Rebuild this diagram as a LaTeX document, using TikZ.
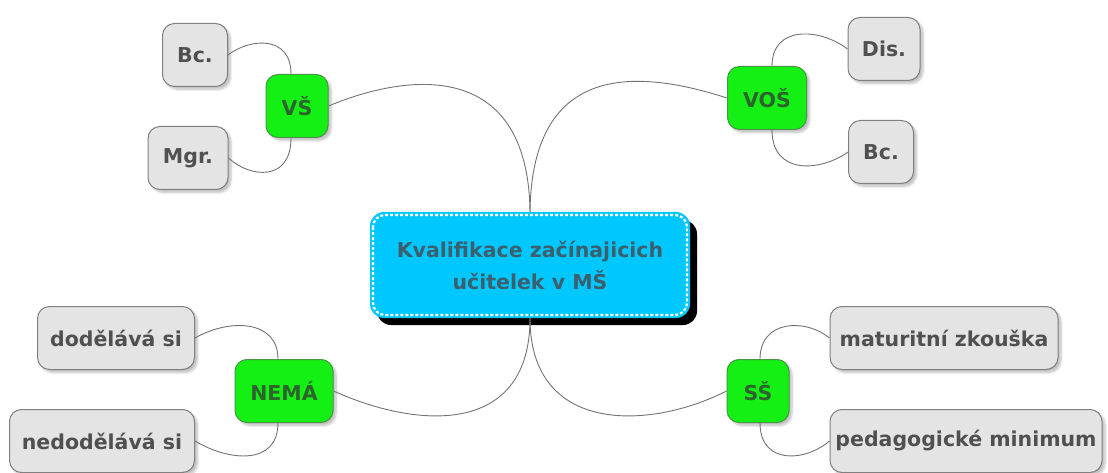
\documentclass[tikz,border=0pt]{standalone}
\usepackage{fontspec}
\setmainfont{DejaVu Sans}
\usetikzlibrary{shadows.blur}
\definecolor{leaffill}{RGB}{228,228,228}
\definecolor{leafdraw}{RGB}{128,128,128}
\definecolor{leaftext}{RGB}{80,80,80}
\definecolor{midfill}{RGB}{20,240,20}
\definecolor{middraw}{RGB}{70,150,70}
\definecolor{midtext}{RGB}{45,100,45}
\definecolor{rootfill}{RGB}{0,200,255}
\definecolor{roottext}{RGB}{60,95,110}
\definecolor{linkcol}{RGB}{115,115,115}
\tikzset{
  x=1pt, y=-1pt,
  every node/.style={font=\fontsize{20.5}{32}\selectfont\bfseries, inner sep=0pt, align=center},
  leaf/.style={draw=leafdraw, line width=1pt, fill=leaffill, text=leaftext,
    rounded corners=12pt, minimum height=63pt,
    blur shadow={shadow xshift=3pt, shadow yshift=-3pt, shadow blur steps=6, shadow opacity=25}},
  branch/.style={draw=middraw, line width=1pt, fill=midfill, text=midtext,
    rounded corners=12pt, minimum height=63pt,
    blur shadow={shadow xshift=3pt, shadow yshift=-3pt, shadow blur steps=6, shadow opacity=25}},
  link/.style={draw=linkcol, line width=0.9pt},
}
\begin{document}
\begin{tikzpicture}
\useasboundingbox (0,0) rectangle (1108,473);

% central topic with hard shadow and stitched border
\fill[black, rounded corners=14pt] (377,220) rectangle (697,325);
\node[fill=rootfill, rounded corners=14pt, minimum width=320pt, minimum height=106pt,
      text=roottext] (root) at (530,265) {Kvalifikace začínajicich\\učitelek v MŠ};
\draw[white, line width=2.2pt, dash pattern=on 3pt off 2pt, rounded corners=12pt]
  (373,215) rectangle (687,315);

% branches
\node[branch, minimum width=62pt] (vs) at (297,106) {VŠ};
\node[branch, minimum width=79pt] (vos) at (767,98) {VOŠ};
\node[branch, minimum width=98pt] (nema) at (284,391) {NEMÁ};
\node[branch, minimum width=62pt] (ss) at (758,391) {SŠ};

% leaves
\node[leaf, minimum width=65pt] (bc1) at (195,55) {Bc.};
\node[leaf, minimum width=80pt] (mgr) at (188,158) {Mgr.};
\node[leaf, minimum width=72pt] (dis) at (884,49) {Dis.};
\node[leaf, minimum width=65pt] (bc2) at (881,152) {Bc.};
\node[leaf, minimum width=157pt] (dod) at (116,338) {dodělává si};
\node[leaf, minimum width=185pt] (nedod) at (102,441) {nedodělává si};
\node[leaf, minimum width=228pt] (mat) at (944,338) {maturitní zkouška};
\node[leaf, minimum width=272pt] (ped) at (966,441) {pedagogické minimum};

% links from the central topic
\draw[link] (root.north) .. controls (528,60) and (410,72) .. (vs.east);
\draw[link] (root.north) .. controls (532,60) and (640,70) .. (vos.west);
\draw[link] (root.south) .. controls (530,435) and (420,430) .. (nema.east);
\draw[link] (root.south) .. controls (530,435) and (650,430) .. (ss.west);

% links to the leaves
\draw[link] ([xshift=-6pt]vs.north) .. controls (291,35) and (250,38) .. (bc1.east);
\draw[link] ([xshift=-6pt]vs.south) .. controls (291,182) and (250,178) .. (mgr.east);
\draw[link] ([xshift=5pt]vos.north) .. controls (772,25) and (820,28) .. (dis.west);
\draw[link] ([xshift=5pt]vos.south) .. controls (772,175) and (820,172) .. (bc2.west);
\draw[link] ([xshift=-6pt]nema.north) .. controls (278,320) and (230,318) .. (dod.east);
\draw[link] ([xshift=-6pt]nema.south) .. controls (278,465) and (230,462) .. (nedod.east);
\draw[link] ([xshift=2pt]ss.north) .. controls (760,320) and (805,318) .. (mat.west);
\draw[link] ([xshift=2pt]ss.south) .. controls (760,465) and (805,462) .. (ped.west);
\end{tikzpicture}
\end{document}
